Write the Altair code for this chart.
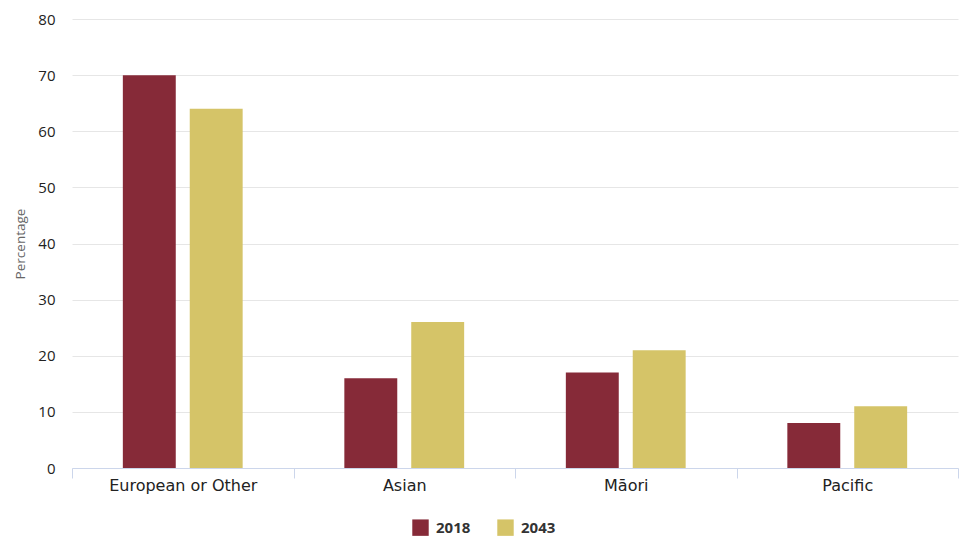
import altair as alt
import pandas as pd

categories = ["European or Other", "Asian", "Māori", "Pacific"]
years = ["2018", "2043"]
values_2018 = [70, 16, 17, 8]
values_2043 = [64, 26, 21, 11]
colors = ["#862a38", "#d5c468"]

rows = []
for c, v1, v2 in zip(categories, values_2018, values_2043):
    rows.append({"group": c, "year": years[0], "value": v1})
    rows.append({"group": c, "year": years[1], "value": v2})
df = pd.DataFrame(rows)

chart = alt.Chart(df).mark_bar().encode(
    x=alt.X("group:N", sort=categories, title=None,
            scale=alt.Scale(paddingInner=0, paddingOuter=0),
            axis=alt.Axis(labelAngle=0, tickBand="extent", domainColor="#ccd6eb",
                          tickColor="#ccd6eb", tickSize=10, labelFontSize=16,
                          labelFont="DejaVu Sans", labelColor="#222222", labelPadding=-1,
                          grid=False)),
    xOffset=alt.XOffset("year:N", sort=years,
                        scale=alt.Scale(paddingInner=0.209, paddingOuter=0.76)),
    y=alt.Y("value:Q", title="Percentage",
            scale=alt.Scale(domain=[0, 80]),
            axis=alt.Axis(values=list(range(0, 90, 10)), domain=False, ticks=False,
                          gridColor="#e6e6e6", labelFontSize=15, labelFont="Open Sans",
                          labelColor="#222222", labelPadding=17,
                          titleFont="Open Sans", titleFontSize=13.5, titleFontWeight="normal",
                          titleColor="#666666", titlePadding=10)),
    color=alt.Color("year:N", sort=years, scale=alt.Scale(domain=years, range=colors),
                    legend=alt.Legend(title=None, orient="none", direction="horizontal",
                                      legendX=340, legendY=500, symbolType="square",
                                      symbolSize=270, symbolStrokeWidth=0,
                                      labelFont="Open Sans", labelFontSize=15,
                                      labelFontWeight="bold", labelColor="#333333",
                                      labelOffset=7, columnPadding=26, symbolOpacity=1)),
).properties(
    width=886, height=449,
    padding={"left": 72, "top": 19, "right": 1, "bottom": 68},
    autosize=alt.AutoSizeParams(type="none"),
).configure_view(stroke=None).configure_axis(gridWidth=1)

chart.save("out.html", embed_options={"renderer": "svg", "actions": False})
